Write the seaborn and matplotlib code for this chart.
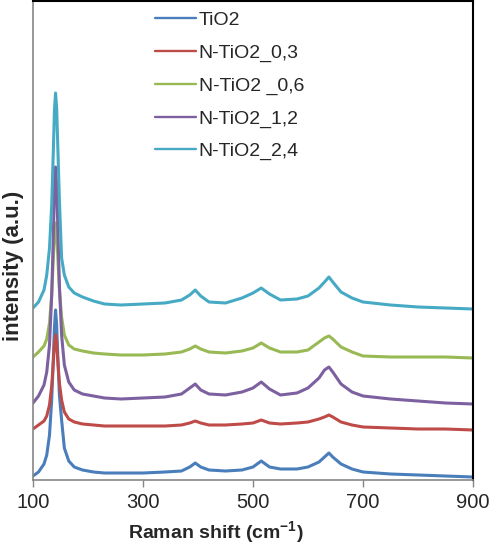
import matplotlib
matplotlib.use("Agg")
import matplotlib.pyplot as plt
import seaborn as sns
import pandas as pd

# Raman shift positions (cm-1)
shift = [100, 110, 120, 125, 130, 134, 137, 139, 141, 143, 145, 148, 152, 157, 165, 175, 190, 210,
         230, 260, 300, 340, 370, 385, 395, 405, 420, 450, 480, 500, 515, 530, 550, 580, 600,
         620, 630, 638, 645, 660, 680, 700, 750, 800, 850, 900]

tio2 = [4, 8, 16, 25, 45, 80, 122, 153, 170, 155, 125, 85, 60, 32, 19, 13, 10, 8,
        7, 7, 7, 8, 9, 13, 17, 13, 10, 9, 10, 13, 19, 13, 11, 11, 13,
        18, 23, 27, 23, 16, 11, 8, 6, 5, 4, 3]

n_tio2_03 = [51, 55, 59, 64, 75, 94, 118, 136, 145, 137, 120, 97, 80, 68, 61, 58, 56, 55,
             54, 54, 54, 54, 55, 57, 59, 57, 55, 55, 56, 57, 60, 57, 56, 57, 58,
             61, 63, 65, 63, 58, 55, 53, 52, 51, 51, 50]

n_tio2_06 = [123, 128, 134, 141, 157, 185, 222, 245, 257, 247, 224, 190, 163, 145, 135, 131, 129, 127,
             126, 125, 125, 126, 128, 131, 134, 131, 128, 127, 129, 132, 137, 132, 128, 128, 130,
             138, 142, 144, 141, 133, 128, 124, 123, 123, 123, 122]

n_tio2_12 = [77, 84, 95, 108, 135, 185, 245, 290, 313, 295, 255, 195, 145, 115, 98, 90, 86, 84,
             82, 81, 82, 83, 86, 92, 96, 90, 86, 85, 88, 92, 98, 91, 85, 87, 92,
             102, 110, 113, 108, 96, 88, 84, 81, 79, 77, 76]

n_tio2_24 = [172, 178, 190, 205, 232, 275, 330, 370, 387, 372, 335, 280, 222, 205, 193, 187, 183, 179,
             176, 175, 176, 177, 180, 185, 190, 184, 178, 177, 182, 187, 192, 186, 180, 181, 184,
             192, 198, 203, 198, 188, 182, 178, 175, 173, 172, 171]

series_names = ["TiO2", "N-TiO2_0,3", "N-TiO2 _0,6", "N-TiO2_1,2", "N-TiO2_2,4"]
series_values = [tio2, n_tio2_03, n_tio2_06, n_tio2_12, n_tio2_24]
colors = ["#4A7EBB", "#BE4B48", "#98B954", "#7D60A0", "#46AAC5"]
xticks = [100, 300, 500, 700, 900]

frames = []
for name, vals in zip(series_names, series_values):
    frames.append(pd.DataFrame({"shift": shift, "intensity": vals, "sample": name}))
df = pd.concat(frames, ignore_index=True)

sns.set_style("white")
plt.rcParams["font.family"] = ["Liberation Sans", "DejaVu Sans"]
plt.rcParams["mathtext.fontset"] = "custom"
plt.rcParams["mathtext.rm"] = "Liberation Sans"
plt.rcParams["mathtext.bf"] = "Liberation Sans:bold"

fig = plt.figure(figsize=(4.9, 5.47), dpi=100)
ax = fig.add_axes([33 / 490, 1 - 480 / 547, 440 / 490, 479 / 547])

sns.lineplot(data=df, x="shift", y="intensity", hue="sample", hue_order=series_names,
             palette=colors, sort=False, linewidth=2.2, ax=ax, legend=True)

ax.set_xlim(100, 900)
ax.set_ylim(0, 479)
ax.set_xticks(xticks)
ax.set_xticklabels([str(t) for t in xticks], fontsize=14.5)
ax.set_yticks([])
ax.tick_params(axis="x", direction="out", length=5, width=1, color="#868686", pad=4, bottom=True)

for side in ["left", "bottom"]:
    ax.spines[side].set_color("#868686")
    ax.spines[side].set_linewidth(1.2)
for side in ["top", "right"]:
    ax.spines[side].set_color("black")
    ax.spines[side].set_linewidth(1.5)

ax.set_xlabel("Raman shift (cm$^{\\mathbf{-1}}$)", fontsize=14, fontweight="bold")
ax.xaxis.set_label_coords((216 - 33) / 440, -(533 - 480) / 479)
ax.xaxis.label.set_va("center")
ax.set_ylabel("intensity (a.u.)", fontsize=16, fontweight="bold")
ax.yaxis.set_label_coords(-(33 - 14) / 440, (480 - 266) / 479)
ax.yaxis.label.set_va("center")

handles, labels = ax.get_legend_handles_labels()
leg = ax.legend(handles, labels, loc="upper left", bbox_to_anchor=(155 / 490, 1 - 11 / 547),
                bbox_transform=fig.transFigure, frameon=False, fontsize=14,
                handlelength=2.1, handletextpad=0.15, labelspacing=0.78, borderpad=0,
                borderaxespad=0)
for line in leg.get_lines():
    line.set_linewidth(1.7)

fig.savefig("out.png", dpi=100)
